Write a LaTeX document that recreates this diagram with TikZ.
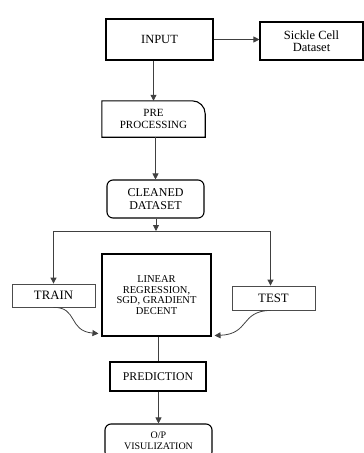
\documentclass[tikz,border=0pt]{standalone}
\usepackage{fontspec}
\setmainfont{Liberation Serif}
\usetikzlibrary{arrows.meta}
\tikzset{
  box/.style={draw, line width=1.1pt, inner sep=0pt, align=center},
  thinbox/.style={draw=black!70, line width=0.8pt, inner sep=0pt, align=center},
  conn/.style={draw=black!75, line width=0.8pt},
  arr/.style={conn, -{Triangle[width=6pt,length=6pt]}}
}
\begin{document}
\begin{tikzpicture}[x=1pt,y=-1pt]
\useasboundingbox (0,0) rectangle (364,453);
\node[box, minimum width=107pt, minimum height=41pt, font=\fontsize{12.5}{13}\selectfont] (input) at (159.5,39.5) {INPUT};
\node[box, minimum width=103pt, minimum height=38pt, font=\fontsize{12.5}{12.5}\selectfont] (sickle) at (311.5,41) {Sickle Cell\\Dataset};
\node[inner sep=0pt, minimum width=103pt, minimum height=36pt, align=center, font=\fontsize{11}{11.5}\selectfont] (pre) at (153.5,119) {PRE\\PROCESSING};
\draw[line width=1.1pt] (pre.south west) -- (pre.north west) [rounded corners=13pt] -- (pre.north east) [sharp corners] -- (pre.south east) -- cycle;
\node[box, rounded corners=6pt, minimum width=97pt, minimum height=38pt, font=\fontsize{12}{12.5}\selectfont] (clean) at (155.5,199) {CLEANED\\DATASET};
\coordinate (split) at (156,231);
\node[thinbox, minimum width=83pt, minimum height=23pt, font=\fontsize{12.8}{13}\selectfont] (train) at (53.5,295.5) {TRAIN};
\node[thinbox, minimum width=83pt, minimum height=24pt, font=\fontsize{12.8}{13}\selectfont] (test) at (273.5,298) {TEST};
\node[box, minimum width=109pt, minimum height=82pt, font=\fontsize{10.5}{10.5}\selectfont] (model) at (156.5,295) {LINEAR\\REGRESSION,\\SGD, GRADIENT\\DECENT};
\node[box, minimum width=96pt, minimum height=29pt, font=\fontsize{11.8}{12}\selectfont] (pred) at (158,376.5) {PREDICTION};
\node[box, rounded corners=6pt, minimum width=107pt, minimum height=34pt, font=\fontsize{10}{10.5}\selectfont] (viz) at (158.5,441) {O/P\\VISULIZATION};
\draw[arr] (input.east) -- (input.east -| sickle.west);
\draw[arr] (pre.north |- input.south) -- (pre.north);
\draw[arr] (clean.north |- pre.south) -- (clean.north);
\draw[arr] (split |- clean.south) -- (split);
\draw[arr] (split) -| (train.north);
\draw[arr] (split) -| ([xshift=-3pt]test.north);
\draw[arr] (train.south) .. controls (78,307) and (68,331) .. ([xshift=-3pt,yshift=3pt]model.south west);
\draw[arr] ([xshift=-3pt]test.south) .. controls (240,311) and (250,334) .. ([xshift=3pt,yshift=1pt]model.south east);
\draw[conn] (pred.north |- model.south) -- (pred.north);
\draw[arr] (viz.north |- pred.south) -- (viz.north);
\end{tikzpicture}
\end{document}
